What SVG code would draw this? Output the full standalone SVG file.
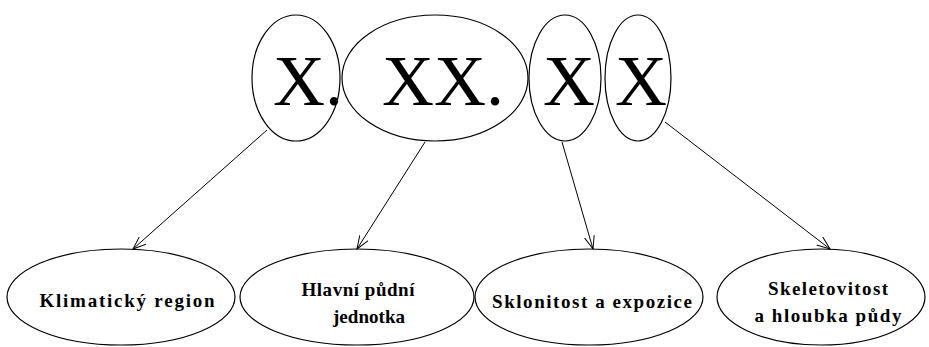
<svg xmlns="http://www.w3.org/2000/svg" width="929" height="347" viewBox="0 0 929 347">
<style>
.e{fill:none;stroke:#000;stroke-width:1.2}
.big{font-family:"Liberation Serif","Times New Roman",serif;font-size:72px;fill:#000}
.lbl{font-family:"Liberation Serif","Times New Roman",serif;font-size:19px;font-weight:bold;fill:#000;text-anchor:middle}
.c{stroke:#000;stroke-width:1;fill:none}
</style>
<defs>
<marker id="arr" markerUnits="userSpaceOnUse" markerWidth="16" markerHeight="12" refX="13" refY="5" orient="auto" viewBox="0 0 16 10">
<path d="M0,0 L13,5 L0,10" fill="none" stroke="#000" stroke-width="1"/>
</marker>
</defs>
<rect width="929" height="347" fill="#fff"/>
<g id="top1"><ellipse class="e" cx="296" cy="78" rx="44" ry="63"/><text class="big" x="273" y="105">X.</text></g>
<g id="top2"><ellipse class="e" cx="435" cy="78" rx="93" ry="63"/><text class="big" x="382" y="105">XX.</text></g>
<g id="top3"><ellipse class="e" cx="565" cy="78" rx="36" ry="63"/><text class="big" x="543" y="105">X</text></g>
<g id="top4"><ellipse class="e" cx="638" cy="78" rx="33" ry="63"/><text class="big" x="615" y="105">X</text></g>
<g id="b1"><ellipse class="e" cx="121" cy="297" rx="114" ry="48"/><text class="lbl" x="127" y="307" textLength="175" lengthAdjust="spacing">Klimatický region</text></g>
<g id="b2"><ellipse class="e" cx="357" cy="297" rx="117" ry="48"/><text class="lbl" x="358" y="296" textLength="113" lengthAdjust="spacing">Hlavní půdní</text><text class="lbl" x="369" y="323" textLength="72" lengthAdjust="spacing">jednotka</text></g>
<g id="b3"><ellipse class="e" cx="589" cy="297" rx="114" ry="48"/><text class="lbl" x="592" y="308" textLength="200" lengthAdjust="spacing">Sklonitost a expozice</text></g>
<g id="b4"><ellipse class="e" cx="821" cy="297" rx="104" ry="48"/><text class="lbl" x="828" y="295" textLength="120" lengthAdjust="spacing">Skeletovitost</text><text class="lbl" x="828" y="322" textLength="147" lengthAdjust="spacing">a hloubka půdy</text></g>
<g id="connectors">
<line class="c" x1="267" y1="130" x2="133" y2="249" marker-end="url(#arr)"/>
<line class="c" x1="425" y1="142" x2="357" y2="249" marker-end="url(#arr)"/>
<line class="c" x1="562" y1="142" x2="593" y2="249" marker-end="url(#arr)"/>
<line class="c" x1="665" y1="122" x2="830" y2="249" marker-end="url(#arr)"/>
</g>
</svg>
